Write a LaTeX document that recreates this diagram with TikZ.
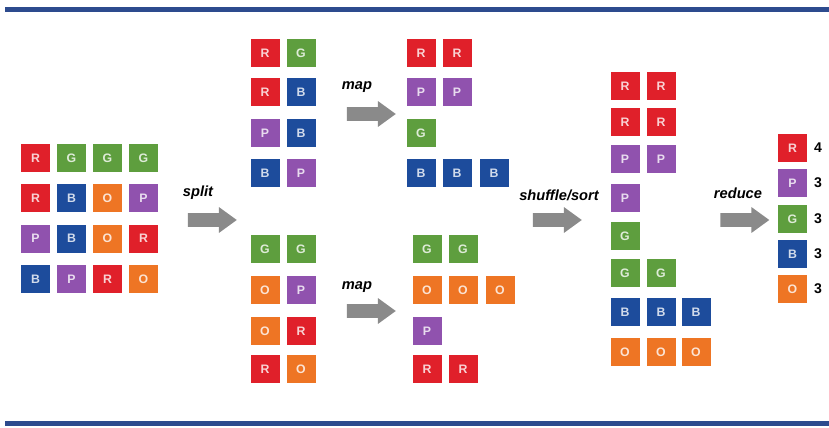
\documentclass[tikz,border=0pt]{standalone}
\usepackage{fontspec}
\setmainfont{Liberation Sans}
\usetikzlibrary{shapes.arrows,positioning}
\definecolor{cR}{HTML}{E0202A}
\definecolor{cG}{HTML}{5E9E3E}
\definecolor{cB}{HTML}{1D4C9C}
\definecolor{cP}{HTML}{9052AE}
\definecolor{cO}{HTML}{EE7524}
\definecolor{barre}{HTML}{2D4B8E}
\definecolor{gris}{HTML}{8A8A8A}
\begin{document}
\begin{tikzpicture}[x=0.03cm,y=-0.03cm]
		\tikzstyle{tile} = [rectangle,minimum width=0.87cm,minimum height=0.84cm,inner sep=0pt,text=white,text opacity=0.8,font=\bfseries\fontsize{10.5}{11}\selectfont];
		\tikzstyle{fleche} = [single arrow,fill=gris,inner sep=0.2cm,minimum height=1.47cm,single arrow head extend=0.18cm,single arrow tip angle=72];
		\tikzstyle{etiq} = [font=\bfseries\itshape\fontsize{12.5}{14}\selectfont];
		\tikzstyle{nombre} = [inner sep=0pt,font=\bfseries\fontsize{12}{13}\selectfont];
		
		\useasboundingbox (0,0) rectangle (829,428);
		\fill[barre] (5,7) rectangle (829,12);
		\fill[barre] (5,421) rectangle (829,426);
		
		% input
		\foreach \ligne [count=\j] in {{R,G,G,G},{R,B,O,P},{P,B,O,R},{B,P,R,O}}{
			\foreach \c [count=\i] in \ligne{
				\node[tile,fill=c\c] (in\j\i) at (35.5+36*\i-36,158+40.3*\j-40.3) {\c};
			}
		}
		
		% split
		\foreach \x/\y/\c [count=\i] in {265/53/R,301/53/G,265/92/R,301/92/B,265/133/P,301/133/B,265/173/B,301/173/P}{
			\node[tile,fill=c\c] (sa\i) at (\x,\y) {\c};
		}
		\foreach \x/\y/\c [count=\i] in {265/249/G,301/249/G,265/290/O,301/290/P,265/331/O,301/331/R,265/369/R,301/369/O}{
			\node[tile,fill=c\c] (sb\i) at (\x,\y) {\c};
		}
		
		% map
		\foreach \x/\y/\c [count=\i] in {421/53/R,457/53/R,421/92/P,457/92/P,421/133/G,421/173/B,457/173/B,494/173/B}{
			\node[tile,fill=c\c] (ma\i) at (\x,\y) {\c};
		}
		\foreach \x/\y/\c [count=\i] in {427/249/G,463/249/G,427/290/O,463/290/O,500/290/O,427/331/P,427/369/R,463/369/R}{
			\node[tile,fill=c\c] (mb\i) at (\x,\y) {\c};
		}
		
		% shuffle/sort
		\foreach \x/\y/\c [count=\i] in {625/86/R,661/86/R,625/122/R,661/122/R,625/159/P,661/159/P,625/198/P,625/236/G,625/273/G,661/273/G,625/312/B,661/312/B,696/312/B,625/352/O,661/352/O,696/352/O}{
			\node[tile,fill=c\c] (sh\i) at (\x,\y) {\c};
		}
		
		% reduce
		\foreach \y/\c/\n [count=\i] in {148/R/4,183/P/3,219/G/3,254/B/3,289/O/3}{
			\node[tile,fill=c\c] (re\i) at (792.5,\y) {\c};
			\node[nombre,right=0.2cm of re\i] (nb\i) {\n};
		}
		
		% arrows
		\node[fleche] (fsplit) at (207.5,220) {};
		\node[fleche] (fmapa) at (366.5,114) {};
		\node[fleche] (fmapb) at (366.5,311) {};
		\node[fleche] (fshuffle) at (552.5,220) {};
		\node[fleche] (freduce) at (740,220) {};
		
		\node[etiq] (lsplit) at (198,193) {split};
		\node[etiq] (lmapa) at (357,87) {map};
		\node[etiq] (lmapb) at (357,287) {map};
		\node[etiq] (lshuffle) at (559,195) {shuffle/sort};
		\node[etiq] (lreduce) at (738,193) {reduce};
		
	\end{tikzpicture}
\end{document}
